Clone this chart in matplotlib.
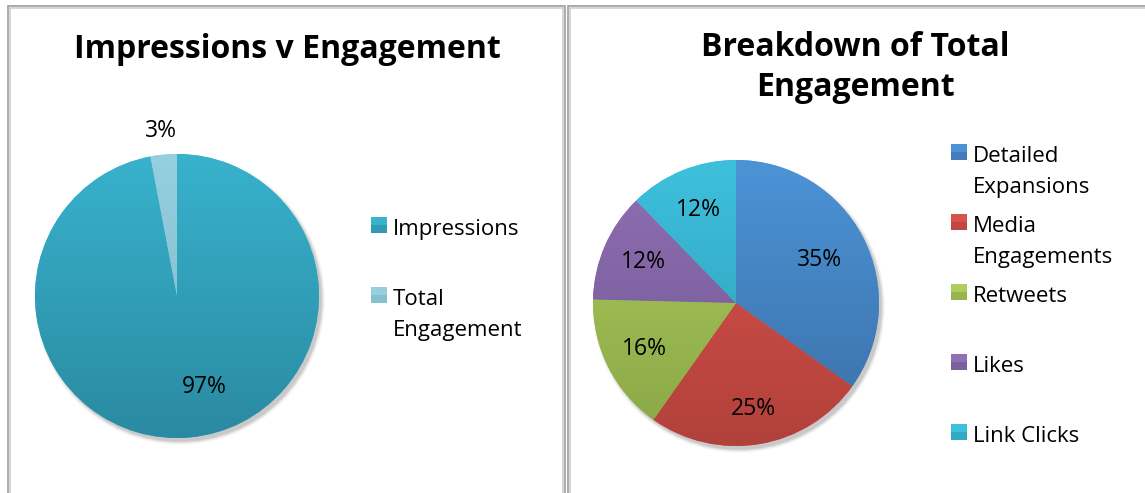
import numpy as np
import matplotlib
matplotlib.use("Agg")
import matplotlib.pyplot as plt
from matplotlib.patches import Rectangle, Circle
from matplotlib.colors import to_rgb, LinearSegmentedColormap

plt.rcParams['font.family'] = ['Open Sans', 'DejaVu Sans']

# ---- data ----
left_title = "Impressions v Engagement"
left_categories = ["Impressions", "Total\nEngagement"]
left_values = [97, 3]
left_top_colors = ["#38B2CD", "#95D0E0"]
left_bot_colors = ["#2A8AA1", "#7DB4C6"]

right_title = "Breakdown of Total\nEngagement"
right_categories = ["Detailed\nExpansions", "Media\nEngagements", "Retweets", "Likes", "Link Clicks"]
right_values = [34.9, 24.9, 15.6, 12.3, 12.3]
right_top_colors = ["#4C93D6", "#D9534C", "#ADCD5C", "#9070B5", "#3EC0DD"]
right_bot_colors = ["#3A6FA6", "#B2413B", "#89A646", "#6F568E", "#2C9BB6"]

W, H = 1145, 493
fig = plt.figure(figsize=(W / 100, H / 100), dpi=100)


def fx(x):
    return x / W


def fy(y):
    return 1 - y / H


def px_axes(cx, cy, r):
    return fig.add_axes([(cx - r) / W, 1 - (cy + r) / H, 2 * r / W, 2 * r / H])


def panel(x0, x1):
    # double gray border, open at the bottom (cut by image edge)
    for off, col in [(0, "#9E9E9E"), (2, "#D0D0D0")]:
        fig.add_artist(Rectangle(((x0 + off) / W, -0.2), (x1 - x0 - 2 * off) / W,
                                 (H - 6 - off) / H + 0.2, transform=fig.transFigure,
                                 fill=False, edgecolor=col, linewidth=1.2))


panel(8, 565)
panel(568, 1160)


def draw_pie(ax, values, tops, bots, label_dists, label_fs):
    ax.set_xlim(-1, 1)
    ax.set_ylim(-1, 1)
    ax.set_aspect('equal')
    ax.axis('off')
    # soft shadow
    for i, a in enumerate(np.linspace(0.07, 0.02, 5)):
        ax.add_patch(Circle((0.02, -0.025), 1.0 + 0.006 * i, color='black', alpha=a,
                            linewidth=0, zorder=0, clip_on=False))
    wedges, texts, autotexts = ax.pie(values, startangle=90, counterclock=False,
                                      colors=tops, autopct='%.0f%%', pctdistance=1.0,
                                      wedgeprops=dict(linewidth=0),
                                      textprops=dict(fontsize=label_fs, color='black'))
    for w, t, b in zip(wedges, tops, bots):
        cmap = LinearSegmentedColormap.from_list('g', [to_rgb(b), to_rgb(t)])
        grad = np.linspace(0, 1, 256).reshape(-1, 1)
        im = ax.imshow(grad, cmap=cmap, extent=(-1, 1, -1, 1), origin='lower',
                       aspect='auto', zorder=w.get_zorder() + 0.1)
        im.set_clip_path(w)
    for at, d in zip(autotexts, label_dists):
        x, y = at.get_position()
        at.set_position((x * d, y * d))
        at.set_zorder(10)
    ax.set_xlim(-1, 1)
    ax.set_ylim(-1, 1)
    return wedges, autotexts


# left pie
axL = px_axes(177, 296, 142)
wL, atL = draw_pie(axL, left_values, left_top_colors, left_bot_colors, [0.67, 1.17], 16.5)
atL[0].set_position((0.195, -0.64))

# right pie
axR = px_axes(736, 303, 143)
wR, atR = draw_pie(axR, right_values, right_top_colors, right_bot_colors,
                   [0.66, 0.755, 0.72, 0.71, 0.70], 16.5)

# titles (one text per line, placed on baselines)
fig.text(fx(287), fy(58), left_title, ha='center', va='baseline',
         fontsize=23, fontweight='bold')
for line, base in zip(right_title.split("\n"), [56, 96]):
    fig.text(fx(855), fy(base), line, ha='center', va='baseline',
             fontsize=23, fontweight='bold')


def legend(xm, bases, labels, tops, bots, fs=16):
    s = 16
    for base, lab, t, b in zip(bases, labels, tops, bots):
        fig.add_artist(Rectangle((fx(xm), fy(base - 2)), s / W, s / H,
                                 transform=fig.transFigure, facecolor=t, edgecolor='none'))
        fig.add_artist(Rectangle((fx(xm), fy(base - 2)), s / W, s / 2 / H,
                                 transform=fig.transFigure, facecolor=b, edgecolor='none',
                                 alpha=0.6))
        for k, part in enumerate(lab.split("\n")):
            fig.text(fx(xm + 22), fy(base + 31 * k), part, ha='left', va='baseline',
                     fontsize=fs)


legend(371, [235, 305], left_categories, left_top_colors, left_bot_colors)
legend(951, [162, 232, 302, 372, 442], right_categories, right_top_colors, right_bot_colors)

fig.savefig("out.png", dpi=100, facecolor='white')
